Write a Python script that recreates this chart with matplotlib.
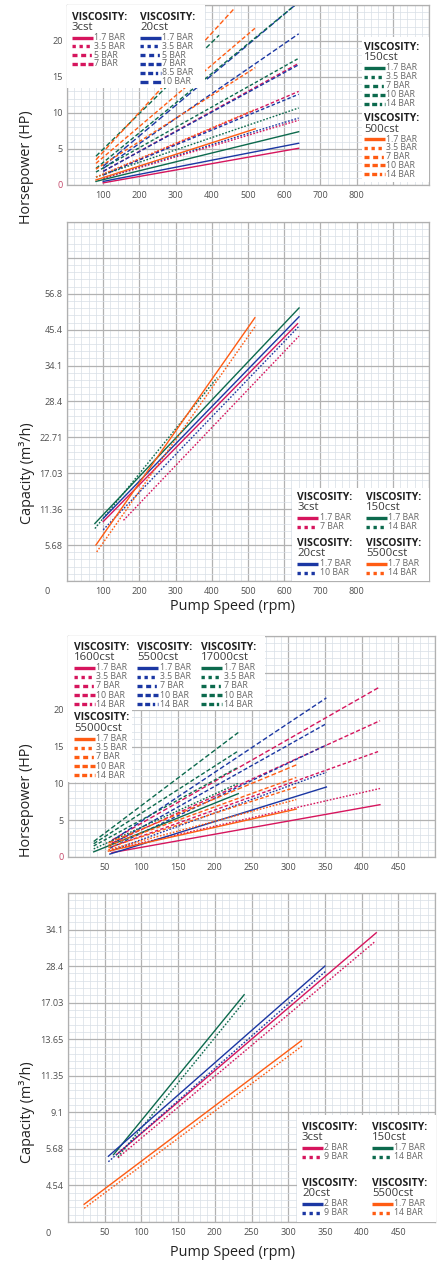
import numpy as np
import matplotlib
matplotlib.use('Agg')
import matplotlib.pyplot as plt
import matplotlib.transforms as mtransforms
from matplotlib.lines import Line2D
from matplotlib.patches import Rectangle
from matplotlib.ticker import FixedLocator, MultipleLocator

plt.rcParams['font.family'] = ['Open Sans', 'DejaVu Sans']

W, H = 437, 1261

PINK = '#d6155d'
BLUE = '#1b37a3'
GREEN = '#0c6a4d'
ORANGE = '#ff5c13'

# ---- chart 1: horsepower vs pump speed (large pump)
hp1_speed_3cst = [100, 640]
hp1_bars_3cst = ['1.7 BAR', '3.5 BAR', '5 BAR', '7 BAR']
hp1_3cst = [[0.3, 5.1], [0.9, 9.0], [1.4, 13.0], [1.9, 16.9]]

hp1_speed_20cst = [100, 640]
hp1_bars_20cst = ['1.7 BAR', '3.5 BAR', '5 BAR', '7 BAR', '8.5 BAR', '10 BAR']
hp1_20cst = [[0.5, 5.8], [1.0, 9.3], [1.4, 12.6], [1.9, 16.7], [2.3, 21.0], [2.6, 25.4]]

hp1_speed_150cst = [80, 640]
hp1_bars_150cst = ['1.7 BAR', '3.5 BAR', '7 BAR', '10 BAR', '14 BAR']
hp1_150cst = [[0.5, 7.4], [1.1, 10.7], [1.8, 17.6], [2.3, 25.4], [4.0, 20.8]]
hp1_end_150cst = [640, 640, 640, 640, 420]

hp1_speed_500cst = [80, 520]
hp1_bars_500cst = ['1.7 BAR', '3.5 BAR', '7 BAR', '10 BAR', '14 BAR']
hp1_500cst = [[0.7, 7.8], [1.1, 10.5], [2.2, 16.3], [3.0, 21.8], [3.5, 24.4]]
hp1_end_500cst = [520, 520, 520, 520, 460]

# ---- chart 2: capacity vs pump speed (large pump)
cap1_ticks = [5.68, 11.36, 17.03, 22.71, 28.4, 34.1, 45.4, 56.8]
cap1_labels = ['5.68', '11.36', '17.03', '22.71', '28.4', '34.1', '45.4', '56.8']
cap1_top = 79.6

cap1_bars_3cst = ['1.7 BAR', '7 BAR']
cap1_speed_3cst = [[100, 637], [156, 641]]
cap1_3cst = [[9.4, 47.3], [9.6, 43.4]]

cap1_bars_150cst = ['1.7 BAR', '14 BAR']
cap1_speed_150cst = [[77, 641], [77, 415]]
cap1_150cst = [[9.1, 52.3], [8.3, 32.2]]

cap1_bars_20cst = ['1.7 BAR', '10 BAR']
cap1_speed_20cst = [[100, 641], [100, 640]]
cap1_20cst = [[9.9, 49.5], [8.1, 46.4]]

cap1_bars_5500cst = ['1.7 BAR', '14 BAR']
cap1_speed_5500cst = [[80, 519], [82, 522]]
cap1_5500cst = [[5.7, 49.2], [4.6, 46.8]]

# ---- chart 3: horsepower vs pump speed (small pump)
hp2_bars = ['1.7 BAR', '3.5 BAR', '7 BAR', '10 BAR', '14 BAR']
hp2_speed_1600cst = [60, 425]
hp2_1600cst = [[0.6, 7.1], [1.0, 9.3], [1.4, 14.4], [1.9, 18.5], [2.3, 23.1]]
hp2_speed_5500cst = [57, 352]
hp2_5500cst = [[0.4, 9.5], [0.8, 11.5], [1.2, 15.2], [1.6, 18.1], [2.0, 21.6]]
hp2_speed_17000cst = [35, 232]
hp2_17000cst = [[0.7, 8.6], [1.1, 10.0], [1.5, 12.2], [1.8, 14.4], [2.1, 16.9]]
hp2_speed_55000cst = [55, 311]
hp2_55000cst = [[0.8, 6.5], [1.0, 7.8], [1.3, 9.5], [1.6, 10.8], [1.9, 12.5]]

# ---- chart 4: capacity vs pump speed (small pump)
cap2_ticks = [4.54, 5.68, 9.1, 11.35, 13.65, 17.03, 28.4, 34.1]
cap2_labels = ['4.54', '5.68', '9.1', '11.35', '13.65', '17.03', '28.4', '34.1']
cap2_top = 39.8

cap2_bars_3cst = ['2 BAR', '9 BAR']
cap2_speed_3cst = [[66, 420], [68, 419]]
cap2_3cst = [[5.5, 33.6], [5.4, 32.3]]

cap2_bars_150cst = ['1.7 BAR', '14 BAR']
cap2_speed_150cst = [[62, 240], [68, 243]]
cap2_150cst = [[5.5, 19.5], [5.43, 18.2]]

cap2_bars_20cst = ['2 BAR', '9 BAR']
cap2_speed_20cst = [[55, 350], [55, 352]]
cap2_20cst = [[5.45, 28.4], [5.28, 27.0]]

cap2_bars_5500cst = ['1.7 BAR', '14 BAR']
cap2_speed_5500cst = [[22, 318], [22, 320]]
cap2_5500cst = [[2.2, 13.56], [1.7, 13.26]]

# line styles by position in the group
LINE_LS = ['-', (0, (1.2, 1.2)), (0, (2.5, 1.6)), (0, (3, 1.6)), (0, (3.5, 1.8)), (0, (4.5, 2))]
SWATCH_LS = ['-', (0, (1, 1.1)), (0, (1.5, 1.1, 1.5, 1.1, 0.6, 1.1)), (0, (1.6, 0.8)),
             (0, (1.5, 0.8, 1.5, 0.8, 0.7, 0.8)), (0, (2.4, 1.4))]

fig = plt.figure(figsize=(W / 100, H / 100), dpi=100)
PX = mtransforms.Affine2D().scale(1 / W, -1 / H).translate(0, 1) + fig.transFigure


def px_axes(x0, y0, x1, y1):
    return fig.add_axes([x0 / W, 1 - y1 / H, (x1 - x0) / W, (y1 - y0) / H])


def base_style(ax, xmax, xstep, xminor, xlabels):
    ax.set_xlim(0, xmax)
    ticks = np.arange(0, xmax + 1, xstep)
    ax.set_xticks(ticks, [str(int(t)) if int(t) in xlabels else '' for t in ticks])
    ax.xaxis.set_minor_locator(MultipleLocator(xminor))
    ax.grid(which='major', color='#b2b2b2', lw=0.9)
    ax.grid(which='minor', color='#d8dee6', lw=0.5)
    ax.set_axisbelow(True)
    ax.tick_params(which='both', length=0, labelsize=6.6, labelcolor='#505050')
    ax.tick_params(axis='x', pad=4.5)
    ax.tick_params(axis='y', pad=3)
    for s in ax.spines.values():
        s.set_color('#b0b0b0')
        s.set_linewidth(0.9)


def cap_scale(ax, ticks, labels, top):
    vals = np.array([0] + ticks + [top])
    npos = len(ticks)
    top_pos = npos + (top - ticks[-1]) / (ticks[-1] - ticks[-2])
    pos = np.array(list(range(npos + 1)) + [round(top_pos)])
    fwd = lambda v: np.interp(v, vals, pos)
    inv = lambda p: np.interp(p, pos, vals)
    ax.set_yscale('function', functions=(fwd, inv))
    ax.set_ylim(0, top)
    major = inv(np.arange(0, pos[-1] + 0.01, 1))
    ax.set_yticks(major, [''] + labels + [''] * (len(major) - npos - 1))
    ax.yaxis.set_minor_locator(FixedLocator(inv(np.arange(0, pos[-1] + 0.01, 0.2))))


def box(x0, y0, x1, y1):
    fig.add_artist(Rectangle((x0, y0), x1 - x0, y1 - y0, transform=PX,
                             facecolor='white', edgecolor='none', zorder=1))


def legend_group(x, y, name, color, bars, row=9.0):
    fig.text(x, y, 'VISCOSITY:', transform=PX, fontsize=7.5, fontweight='bold',
             color='#1e1e1e', va='center', zorder=3)
    fig.text(x, y + 10.5, name, transform=PX, fontsize=8.2, color='#3a3a3a',
             va='center', zorder=3)
    for i, b in enumerate(bars):
        yy = y + 20.5 + i * row
        fig.add_artist(Line2D([x, x + 21], [yy, yy], transform=PX, color=color, lw=2.4,
                              ls=SWATCH_LS[i], solid_capstyle='butt', dash_capstyle='butt',
                              zorder=2))
        fig.text(x + 22.5, yy, b, transform=PX, fontsize=6.3, color='#666666',
                 va='center', zorder=3)


def draw_hp(ax, speed, vals, color, ends=None):
    for i, v in enumerate(vals):
        sp = speed if ends is None else [speed[0], ends[i]]
        ax.plot(sp, v, color=color, lw=1.0, ls=LINE_LS[i], dash_capstyle='butt')


def draw_cap(ax, speeds, vals, color):
    for i, (sp, v) in enumerate(zip(speeds, vals)):
        ax.plot(sp, v, color=color, lw=1.0, ls=LINE_LS[i], dash_capstyle='butt')


def axis_labels(ylabel, ylab_y, xlab_y=None, zero_at=None):
    fig.text(27, ylab_y, ylabel, transform=PX, rotation=90, ha='center', va='center',
             fontsize=10.4, color='#222222')
    if xlab_y is not None:
        fig.text(232, xlab_y, 'Pump Speed (rpm)', transform=PX, ha='center', va='center',
                 fontsize=10.4, color='#222222')
    if zero_at is not None:
        fig.text(zero_at[0], zero_at[1], '0', transform=PX, ha='center', va='center',
                 fontsize=6.6, color='#505050')


# ---------------- chart 1
ax1 = px_axes(67, 5, 429, 185)
base_style(ax1, 1000, 100, 20, range(100, 801, 100))
ax1.set_ylim(0, 25)
ax1.set_yticks([0, 5, 10, 15, 20, 25], ['0', '5', '10', '15', '20', ''])
ax1.yaxis.set_minor_locator(MultipleLocator(1))
ax1.get_yticklabels()[0].set_color('#c4496a')
draw_hp(ax1, hp1_speed_3cst, hp1_3cst, PINK)
draw_hp(ax1, hp1_speed_20cst, hp1_20cst, BLUE)
draw_hp(ax1, hp1_speed_150cst, hp1_150cst, GREEN, hp1_end_150cst)
draw_hp(ax1, hp1_speed_500cst, hp1_500cst, ORANGE, hp1_end_500cst)
box(67, 5, 205, 88)
legend_group(72, 17, '3cst', PINK, hp1_bars_3cst, 8.8)
legend_group(140, 17, '20cst', BLUE, hp1_bars_20cst, 8.8)
box(362, 37, 429, 182)
legend_group(364, 47, '150cst', GREEN, hp1_bars_150cst, 9.1)
legend_group(364, 118.5, '500cst', ORANGE, hp1_bars_500cst, 8.8)
axis_labels('Horsepower (HP)', 167)

# ---------------- chart 2
ax2 = px_axes(67, 222, 429, 581)
base_style(ax2, 1000, 100, 20, range(100, 801, 100))
cap_scale(ax2, cap1_ticks, cap1_labels, cap1_top)
draw_cap(ax2, cap1_speed_3cst, cap1_3cst, PINK)
draw_cap(ax2, cap1_speed_150cst, cap1_150cst, GREEN)
draw_cap(ax2, cap1_speed_20cst, cap1_20cst, BLUE)
draw_cap(ax2, cap1_speed_5500cst, cap1_5500cst, ORANGE)
box(292, 488, 429, 581)
legend_group(297, 497, '3cst', PINK, cap1_bars_3cst)
legend_group(366, 497, '150cst', GREEN, cap1_bars_150cst)
legend_group(297, 543, '20cst', BLUE, cap1_bars_20cst)
legend_group(366, 543, '5500cst', ORANGE, cap1_bars_5500cst)
axis_labels('Capacity (m³/h)', 473, 606, (47, 592))

# ---------------- chart 3
ax3 = px_axes(68, 636, 435, 857)
base_style(ax3, 500, 50, 10, range(50, 451, 50))
ax3.set_ylim(0, 30)
ax3.set_yticks([0, 5, 10, 15, 20, 25, 30], ['0', '5', '10', '15', '20', '', ''])
ax3.yaxis.set_minor_locator(MultipleLocator(1))
ax3.get_yticklabels()[0].set_color('#c4496a')
draw_hp(ax3, hp2_speed_1600cst, hp2_1600cst, PINK)
draw_hp(ax3, hp2_speed_5500cst, hp2_5500cst, BLUE)
draw_hp(ax3, hp2_speed_17000cst, hp2_17000cst, GREEN)
draw_hp(ax3, hp2_speed_55000cst, hp2_55000cst, ORANGE)
box(68, 636, 265, 710)
box(68, 710, 132, 782)
legend_group(74, 647, '1600cst', PINK, hp2_bars, 9.2)
legend_group(137, 647, '5500cst', BLUE, hp2_bars, 9.2)
legend_group(201, 647, '17000cst', GREEN, hp2_bars, 9.2)
legend_group(74, 718, '55000cst', ORANGE, hp2_bars, 9.2)
axis_labels('Horsepower (HP)', 800)

# ---------------- chart 4
ax4 = px_axes(68, 893, 435, 1222)
base_style(ax4, 500, 50, 10, range(50, 451, 50))
cap_scale(ax4, cap2_ticks, cap2_labels, cap2_top)
draw_cap(ax4, cap2_speed_3cst, cap2_3cst, PINK)
draw_cap(ax4, cap2_speed_150cst, cap2_150cst, GREEN)
draw_cap(ax4, cap2_speed_20cst, cap2_20cst, BLUE)
draw_cap(ax4, cap2_speed_5500cst, cap2_5500cst, ORANGE)
box(297, 1115, 436, 1222)
legend_group(302, 1127, '3cst', PINK, cap2_bars_3cst)
legend_group(372, 1127, '150cst', GREEN, cap2_bars_150cst)
legend_group(302, 1183, '20cst', BLUE, cap2_bars_20cst)
legend_group(372, 1183, '5500cst', ORANGE, cap2_bars_5500cst)
axis_labels('Capacity (m³/h)', 1112, 1253, (48, 1233))

fig.savefig('out.png', dpi=100)
